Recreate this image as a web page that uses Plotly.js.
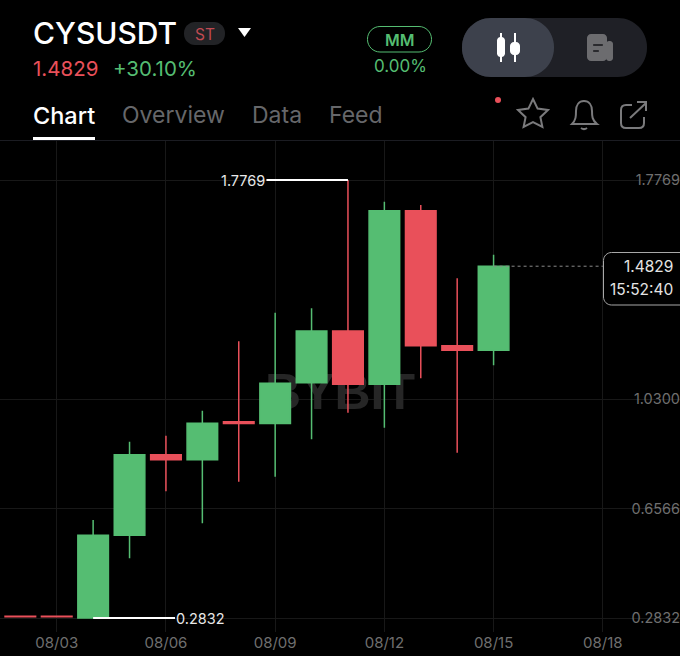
<!DOCTYPE html>
<html><head><meta charset="utf-8">
<script src="https://cdn.plot.ly/plotly-3.0.1.min.js"></script>
<style>html,body{margin:0;padding:0;background:#000}#c{width:680px;height:656px}</style>
</head><body><div id="c"></div>
<script>
const dates=['2025-08-02','2025-08-03','2025-08-04','2025-08-05','2025-08-06','2025-08-07','2025-08-08','2025-08-09','2025-08-10','2025-08-11','2025-08-12','2025-08-13','2025-08-14','2025-08-15'];
const opens =[0.2895,0.2895,0.2832,0.5652,0.8401,0.8230,0.9526,0.9465,1.0856,1.2619,1.0802,1.6722,1.2118,1.1961];
const highs =[0.2900,0.2900,0.6174,0.8844,0.9049,0.9901,1.2268,1.3243,1.3393,1.7769,1.7029,1.6917,1.4417,1.5222];
const lows  =[0.2870,0.2870,0.2832,0.4868,0.7153,0.6062,0.7480,0.7651,0.8926,0.9833,0.9322,1.1006,0.8469,1.1450];
const closes=[0.2875,0.2875,0.5652,0.8401,0.8230,0.9472,0.9465,1.0836,1.2619,1.0802,1.6722,1.2118,1.1961,1.4829];
const yTicks=[0.2832,0.6566,1.0300,1.7769];
const yTickText=['0.2832','0.6566','1.0300','1.7769'];
const lastPrice=1.4829, hiVal=1.7769, loVal=0.2832;
const GREEN='#55bd72', RED='#e9505a', FONT='Inter, Roboto, sans-serif';
const W=680,T=140,B=632,H=B-T;
const yRange=[0.2355,1.9133], xRange=['2025-08-01 10:36','2025-08-20 02:54'];
const px=x=>x/W, py=y=>(B-y)/H;
function P(s){ // path in page pixels -> paper coordinates
  return s.replace(/(-?[\d.]+),(-?[\d.]+)/g,(m,a,b)=>px(+a).toFixed(5)+','+py(+b).toFixed(5));
}
function rr(x0,y0,x1,y1,r){const k=r*0.45;
  return P(`M${x0+r},${y0} L${x1-r},${y0} C${x1-k},${y0} ${x1},${y0+k} ${x1},${y0+r} L${x1},${y1-r} C${x1},${y1-k} ${x1-k},${y1} ${x1-r},${y1} L${x0+r},${y1} C${x0+k},${y1} ${x0},${y1-k} ${x0},${y1-r} L${x0},${y0+r} C${x0},${y0+k} ${x0+k},${y0} ${x0+r},${y0} Z`);}
const ps=(path,fill,line,w)=>({type:'path',xref:'paper',yref:'paper',path,fillcolor:fill||'rgba(0,0,0,0)',line:{color:line||'rgba(0,0,0,0)',width:w||0},layer:'above'});
function txt(x,y,text,size,color,anchor,weight){return {xref:'paper',yref:'paper',x:px(x),y:py(y),text,showarrow:false,xanchor:anchor||'left',yanchor:'middle',align:anchor||'left',font:{family:FONT,size,color,weight:weight||400},borderpad:0,borderwidth:0};}
const shapes=[
 {type:'line',xref:'paper',yref:'paper',x0:0,x1:1,y0:py(140.5),y1:py(140.5),line:{color:'#1b1c22',width:1},layer:'above'},
 {type:'rect',xref:'paper',yref:'paper',x0:px(33),x1:px(95),y0:py(137),y1:py(140),fillcolor:'#fff',line:{width:0},layer:'above'},
 ps(rr(184,22,225,45,11),'#222326'),
 ps(P('M238,28 L251,28 L244.5,37 Z'),'#fff'),
 ps(rr(367.5,26.5,431.5,52,12.5),null,GREEN,1),
 ps(rr(462,18,647,77,29),'#1f2026'),
 ps(rr(462,18,554,77,29),'#3d414c'),
 ps(rr(497,37,505,57,3.5),'#fff'), {type:'line',xref:'paper',yref:'paper',x0:px(501),x1:px(501),y0:py(33),y1:py(62),line:{color:'#fff',width:2},layer:'above'},
 ps(rr(510,42,520,55,4),'#fff'), {type:'line',xref:'paper',yref:'paper',x0:px(515),x1:px(515),y0:py(33),y1:py(62),line:{color:'#fff',width:2},layer:'above'},
 ps(rr(587,34,607,61,4),'#6c6c6f'), ps(rr(606,41,613,61,3),'#6c6c6f'),
 ps(rr(593,44,603,46,1),'#2a2a2e'), ps(rr(593,50,599,52,1),'#2a2a2e'),
 {type:'circle',xref:'paper',yref:'paper',x0:px(495),x1:px(501),y0:py(97),y1:py(103),fillcolor:RED,line:{width:0},layer:'above'},
 ps(P('M533,99 L537.6,108.6 L548,110 L540.4,117.2 L542.4,127 L533,122.2 L523.6,127 L525.6,117.2 L518,110 L528.4,108.6 Z'),null,'#7a7a7c',2),
 ps(P('M572,124 C576,120 576,116 576,111 C576,105 579,101 584,101 C589,101 592,105 592,111 C592,116 592,120 597,124 Z'),null,'#7a7a7c',2),
 ps(P('M581,128 C583,129.5 585,129.5 587,128'),null,'#7a7a7c',2),
 ps(P('M632,105 L626,105 C623,105 621,107 621,110 L621,123 C621,126 623,128 626,128 L639,128 C642,128 644,126 644,123 L644,117'),null,'#7a7a7c',2),
 ps(P('M630,118 L646,103 M637,102 L646,102 L646,111'),null,'#7a7a7c',2),
 {type:'line',xref:'x',yref:'y',x0:dates[9],x1:'2025-08-08 18:15',y0:hiVal,y1:hiVal,line:{color:'#fff',width:2},layer:'above'},
 {type:'line',xref:'x',yref:'y',x0:dates[2],x1:'2025-08-06 06:00',y0:loVal,y1:loVal,line:{color:'#fff',width:2},layer:'above'},
 {type:'line',xref:'x',yref:'y',x0:dates[13],x1:'2025-08-18 00:00',y0:lastPrice,y1:lastPrice,line:{color:'#8a8a8a',width:1,dash:'3px,3px'},layer:'above'},
 ps(rr(603.5,252.5,690,305,8),'#000','#a8a8a8',1),
];
const annotations=[
 txt(33,33,'CYSUSDT',30,'#ffffff','left',500),
 txt(204.5,34,'ST',15.5,'#c04a52','center'),
 txt(33,68,'1.4829',20.5,RED),
 txt(113,68,'+30.10%',20.5,GREEN),
 txt(33,115,'Chart',23.5,'#ffffff','left',500),
 txt(122,115,'Overview',23,'#66676a'),
 txt(252,115,'Data',23,'#66676a'),
 txt(329,115,'Feed',23,'#66676a'),
 txt(399.5,40,'MM',16,GREEN,'center',600),
 txt(400.5,66,'0.00%',17,GREEN,'center'),
 txt(265,180,'1.7769',14.5,'#e8e8e8','right'),
 txt(176,618.5,'0.2832',14.5,'#e8e8e8','left'),
 txt(673,266,'1.4829',15.5,'#e4e4e4','right'),
 txt(673,289,'15:52:40',15.5,'#e4e4e4','right'),
];
const watermark={type:'scatter',mode:'text',x:['2025-08-10 18:45'],y:[1.04],text:['BYBIT'],textposition:'middle center',textfont:{family:'Liberation Sans, sans-serif',size:50,color:'#262626',weight:700},xaxis:'x',yaxis:'y',hoverinfo:'skip',showlegend:false};
const candles={type:'candlestick',x:dates,open:opens,high:highs,low:lows,close:closes,xaxis:'x2',yaxis:'y2',whiskerwidth:0,
 increasing:{line:{color:GREEN,width:1.5},fillcolor:GREEN},
 decreasing:{line:{color:RED,width:1.5},fillcolor:RED},showlegend:false};
const layout={width:680,height:656,margin:{l:0,r:0,t:T,b:656-B,pad:0},paper_bgcolor:'#000',plot_bgcolor:'#000',showlegend:false,boxgap:0.16,boxgroupgap:0,
 xaxis:{type:'date',range:xRange,tick0:'2025-08-03',dtick:3*86400000,tickformat:'%m/%d',showgrid:true,gridcolor:'#181818',gridwidth:1,zeroline:false,showline:false,ticks:'',ticklen:0,tickfont:{family:FONT,size:15,color:'#6f6f6f'},rangeslider:{visible:false},fixedrange:true},
 yaxis:{range:yRange,side:'right',tickmode:'array',tickvals:yTicks,ticktext:yTickText,ticklabelposition:'inside',ticklabelstandoff:-3,showgrid:true,gridcolor:'#181818',gridwidth:1,zeroline:false,showline:false,ticks:'',tickfont:{family:FONT,size:14.5,color:'#6f6f6f'},fixedrange:true},
 xaxis2:{type:'date',range:xRange,overlaying:'x',visible:false,rangeslider:{visible:false},fixedrange:true},
 yaxis2:{range:yRange,overlaying:'y',side:'right',visible:false,fixedrange:true},
 shapes,annotations};
Plotly.newPlot('c',[watermark,candles],layout,{displayModeBar:false,staticPlot:true});
</script></body></html>
